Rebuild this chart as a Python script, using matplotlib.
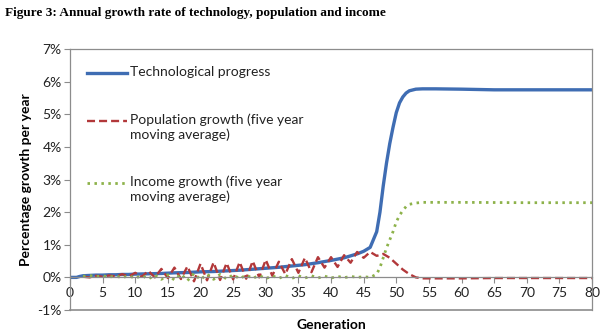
import matplotlib.pyplot as plt
from matplotlib.ticker import FuncFormatter
from matplotlib.lines import Line2D

# ── data ────────────────────────────────────────────────────
tech_gen = [0, 1, 1.5, 2, 3, 4, 5, 6, 7, 8, 9, 10, 12, 14, 16, 18, 20, 22, 24, 26,
            28, 30, 32, 34, 36, 38, 40, 42, 44, 45, 46, 47, 47.5, 48, 48.5, 49,
            49.5, 50, 50.5, 51, 51.5, 52, 53, 54, 56, 60, 65, 70, 75, 80]
tech_val = [0.0, 0.0, 0.03, 0.05, 0.06, 0.07, 0.07, 0.08, 0.08, 0.09, 0.09, 0.10,
            0.11, 0.12, 0.14, 0.15, 0.17, 0.18, 0.20, 0.22, 0.25, 0.28, 0.31, 0.35,
            0.39, 0.45, 0.52, 0.60, 0.72, 0.80, 0.92, 1.40, 2.00, 2.80, 3.50, 4.10,
            4.60, 5.05, 5.35, 5.53, 5.65, 5.72, 5.77, 5.78, 5.78, 5.77, 5.75, 5.75,
            5.75, 5.75]

pop_gen = list(range(2, 56)) + [60, 65, 70, 75, 80]
pop_val = [0.02, 0.00, 0.05, 0.02, 0.06, 0.03, 0.10, 0.03, 0.14, 0.02,
           0.20, 0.00, 0.26, -0.02, 0.30, -0.05, 0.34, -0.12, 0.42, -0.09,
           0.46, -0.08, 0.44, -0.06, 0.47, -0.04, 0.50, 0.00, 0.54, 0.05,
           0.48, 0.10, 0.56, 0.14, 0.60, 0.16, 0.62, 0.30, 0.62, 0.32,
           0.68, 0.45, 0.78, 0.60, 0.78, 0.66, 0.72, 0.60, 0.42, 0.24,
           0.10, 0.00, -0.03, -0.03, -0.03, -0.02, -0.02, -0.02, -0.02]

inc_gen = list(range(2, 47)) + [47, 47.5, 48, 48.5, 49, 49.5, 50, 50.5, 51,
                                51.5, 52, 53, 54, 60, 70, 80]
inc_val = [0.03, 0.06, 0.02, 0.05, 0.01, 0.04, -0.01, 0.05, -0.03, 0.06,
           -0.05, 0.07, -0.06, 0.08, -0.08, 0.10, -0.10, 0.12, -0.07, 0.10,
           -0.06, 0.09, -0.05, 0.08, -0.04, 0.07, -0.03, 0.06, -0.04, 0.05,
           -0.03, 0.06, -0.03, 0.05, -0.02, 0.05, -0.02, 0.04, -0.02, 0.03,
           -0.01, 0.03, 0.00, 0.02, 0.00,
           0.10, 0.30, 0.60, 0.90, 1.15, 1.40, 1.70, 1.90, 2.05,
           2.17, 2.24, 2.28, 2.30, 2.30, 2.29, 2.29]

labels = ["Technological progress",
          "Population growth (five year\nmoving average)",
          "Income growth (five year\nmoving average)"]

BLUE, RED, GREEN, GRAY = "#3F6DB3", "#B2383A", "#8DB24A", "#8C8C8C"

plt.rcParams["font.family"] = ["Lato", "DejaVu Sans"]

fig = plt.figure(figsize=(6, 3.35), dpi=100)
ax = fig.add_axes([0.1167, 0.0746, 0.87, 0.779])

ax.plot(tech_gen, tech_val, color=BLUE, lw=2.4, solid_capstyle="round")
ax.plot(pop_gen, pop_val, color=RED, lw=1.7, dashes=(3.4, 1.7))
ax.plot(inc_gen, inc_val, color=GREEN, lw=2.0, dashes=(0.9, 1.6))

ax.set_xlim(0, 80)
ax.set_ylim(-1, 7)
ax.set_xticks(range(0, 81, 5))
ax.set_yticks(range(-1, 8))
ax.yaxis.set_major_formatter(FuncFormatter(lambda v, _: f"{v:.0f}%"))

# x axis crosses at 0, box closes at -1%
ax.spines["bottom"].set_position(("data", 0))
for s in ax.spines.values():
    s.set_color(GRAY)
    s.set_linewidth(0.9)
ax.plot([0, 1], [0, 0], transform=ax.transAxes, color=GRAY, lw=1.2, clip_on=False)
ax.tick_params(axis="both", direction="out", length=4, color=GRAY,
               labelsize=10, labelcolor="#222222", pad=2)
ax.tick_params(axis="x", pad=3)

ax.set_xlabel("Generation", fontsize=10, fontweight="bold", labelpad=0)
ax.xaxis.set_label_coords(0.5, -0.035)
ax.set_ylabel("Percentage growth per year", fontsize=10, fontweight="bold", labelpad=4)

# legend drawn by hand so the key sits on the first text line
styles = [dict(color=BLUE, lw=2.4), dict(color=RED, lw=1.7, dashes=(3.4, 1.7)),
          dict(color=GREEN, lw=2.0, dashes=(0.9, 1.6))]
key_y = [0.908, 0.724, 0.487]
for lab, st, y in zip(labels, styles, key_y):
    ax.add_line(Line2D([0.033, 0.109], [y, y], transform=ax.transAxes, **st))
    ax.text(0.115, y + 0.028, lab, transform=ax.transAxes, fontsize=10,
            va="top", ha="left", linespacing=1.25, color="#222222")

fig.text(0.008, 0.962, "Figure 3: Annual growth rate of technology, population and income",
         family="Liberation Serif", fontweight="bold", fontsize=9.5, va="center")

fig.savefig("out.png", dpi=100)
